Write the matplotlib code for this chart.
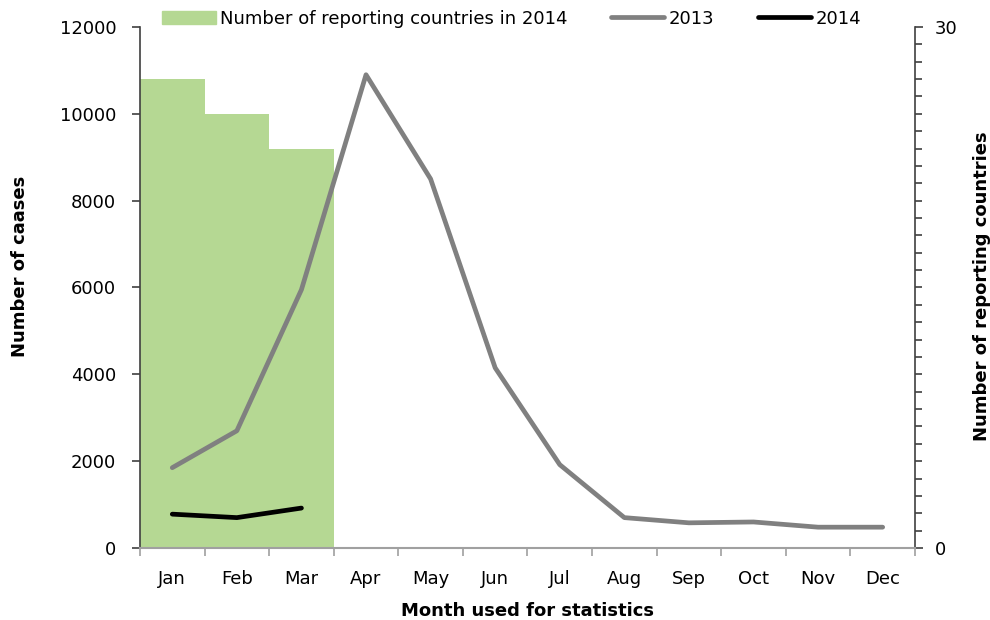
import numpy as np
import matplotlib
matplotlib.use("Agg")
import matplotlib.pyplot as plt
from matplotlib.ticker import MultipleLocator
from matplotlib.patches import Patch
from matplotlib.lines import Line2D

months = ["Jan", "Feb", "Mar", "Apr", "May", "Jun", "Jul", "Aug", "Sep", "Oct", "Nov", "Dec"]
cases_2013 = [1850, 2700, 5950, 10900, 8500, 4150, 1920, 700, 580, 600, 480, 480]
cases_2014 = [780, 700, 920]
countries_2014 = [27, 25, 23]

plt.rcParams["font.family"] = "DejaVu Sans"
plt.rcParams["font.size"] = 13

fig = plt.figure(figsize=(9.9, 6.2), dpi=100)
ax = fig.add_axes([0.1414, 0.1161, 0.7828, 0.8404])
ax2 = ax.twinx()

x = np.arange(len(months))
ax2.bar(x[:len(countries_2014)], countries_2014, width=1.0, color="#b5d893", linewidth=0)
ax.plot(x, cases_2013, color="#808080", lw=3.4, solid_capstyle="round", solid_joinstyle="round")
ax.plot(x[:len(cases_2014)], cases_2014, color="black", lw=3.4, solid_capstyle="round", solid_joinstyle="round")

ax.set_zorder(ax2.get_zorder() + 1)
ax.patch.set_visible(False)

ax.set_xlim(-0.5, 11.5)
ax.set_ylim(0, 12000)
ax2.set_ylim(0, 30)
ax.set_yticks(np.arange(0, 12001, 2000))
ax2.set_yticks([0, 30])
ax2.yaxis.set_minor_locator(MultipleLocator(1))

ax.set_xticks(x)
ax.set_xticklabels(months)
ax.set_xticks(np.arange(-0.5, 12, 1), minor=True)
ax.tick_params(axis="x", which="major", length=0, pad=16)
ax.tick_params(axis="x", which="minor", length=6, color="#a0a0a0", width=1.2)
ax.tick_params(axis="y", length=6, color="#404040", width=1.2, pad=11)
ax2.tick_params(axis="y", which="major", length=6, color="#404040", width=1.2, pad=8)
ax2.tick_params(axis="y", which="minor", length=5, color="#404040", width=1.2)

for a in (ax, ax2):
    a.spines["top"].set_visible(False)
ax.spines["right"].set_visible(False)
ax2.spines["left"].set_visible(False)
ax2.spines["bottom"].set_visible(False)
ax.spines["left"].set_color("#404040")
ax.spines["left"].set_linewidth(1.2)
ax2.spines["right"].set_color("#404040")
ax2.spines["right"].set_linewidth(1.2)
ax.spines["bottom"].set_color("#a0a0a0")
ax.spines["bottom"].set_linewidth(1.5)

fig.text(20 / 990, 1 - 266 / 620, "Number of caases", fontweight="bold",
         rotation=90, ha="center", va="center")
fig.text(982 / 990, 1 - 286 / 620, "Number of reporting countries", fontweight="bold",
         rotation=90, ha="center", va="center")
ax.set_xlabel("Month used for statistics", fontweight="bold", labelpad=10)

handles = [Patch(color="#b5d893"),
           Line2D([0], [0], color="#808080", lw=3.4, solid_capstyle="round"),
           Line2D([0], [0], color="black", lw=3.4, solid_capstyle="round")]
labels = ["Number of reporting countries in 2014", "2013", "2014"]
fig.legend(handles, labels, loc="center", bbox_to_anchor=(0.517, 0.97), ncol=3,
           frameon=False, handlelength=2.95, handleheight=0.72, columnspacing=2.4,
           handletextpad=0.25, borderpad=0, fontsize=13)

fig.savefig("out.png", dpi=100)
